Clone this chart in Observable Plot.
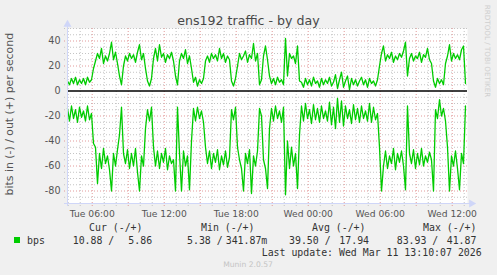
<!DOCTYPE html>
<html><head><meta charset="utf-8">
<script src="https://cdn.jsdelivr.net/npm/d3@7"></script>
<script src="https://cdn.jsdelivr.net/npm/@observablehq/plot@0.6"></script>
<style>
html,body{margin:0;padding:0;background:#f0f0f0;}
#wrap{position:relative;width:497px;height:275px;overflow:hidden;background:#f0f0f0;}
#wrap svg{position:absolute;left:0;top:0;}
</style></head><body><div id="wrap"></div>
<script>
const title = "ens192 traffic - by day";
const yLabel = "bits in (-) / out (+) per second";
const watermark = "RRDTOOL / TOBI OETIKER";
const startHour = 3.94;        // hours since Tue 00:00 at the left edge
const stepHours = 1 / 6;       // one reading every 10 minutes
const spanHours = 400 * 300 / 3600;

const outValues = [
  8,5,10,6,11,5,9,6,10,5,11,7,9,
  18,24,
  30,26,34,22,28,24,30,39,25,31,22,12,
  5,20,
  28,24,30,26,29,23,31,37,25,30,
  18,8,4,10,
  26,34,24,37,27,30,23,29,26,31,24,
  12,5,24,
  30,26,33,22,28,
  18,
  7,11,4,9,6,10,
  24,
  28,23,30,26,29,24,34,26,30,23,28,25,
  8,4,10,
  20,
  30,25,28,32,23,29,26,38,24,30,
  5,9,
  28,36,25,
  12,
  6,10,5,11,7,9,5,
  42,
  12,30,26,28,22,36,8,
  7,3,10,5,9,4,11,6,8,3,10,5,9,6,11,4,7,13,2,9,15,3,8,12,1,10,5,9,4,8,11,5,9,3,10,6,8,4,9,
  20,30,
  36,24,29,26,31,23,28,25,30,27,32,
  39,12,26,
  30,24,28,26,31,23,29,27,34,25,22,
  8,3,10,6,9,5,
  22,
  28,37,24,30,26,29,25,33,36,
  6
];
const inValues = [
  -14,-24,-12,-22,-15,-25,-13,-21,-16,-24,-12,-23,-18,
  -42,
  -45,-74,-50,-62,-46,-58,-52,-63,-80,-50,-60,-47,-35,
  -13,-50,
  -58,-47,-62,-50,-60,-46,-65,-80,-52,-60,
  -30,-15,-24,-13,
  -45,
  -60,-48,-62,-50,-57,-46,-63,-52,-58,-55,
  -80,-13,-50,-80,
  -48,-60,-52,
  -79,-40,
  -14,-24,-13,-22,-16,-25,
  -45,
  -58,-48,-62,-50,-57,-47,-63,-52,-59,-48,-61,-53,
  -15,-23,-13,
  -45,
  -55,-62,-80,-50,-58,-47,-82,-52,-60,-48,
  -14,-20,
  -55,-62,-78,
  -30,
  -14,-24,-12,-22,-16,-25,-13,
  -83,
  -40,-62,-45,-60,-50,-78,-35,
  -12,-24,-10,-22,-15,-26,-11,-23,-14,-25,-12,-22,-16,-24,-9,-27,-13,-30,-6,-25,-8,-28,-12,-22,-15,-26,-11,-23,-14,-25,-12,-22,-16,-24,-10,-25,-13,-23,-18,
  -45,-80,
  -60,-48,-62,-52,-58,-46,-63,-50,-57,-48,-60,
  -79,-12,-50,
  -58,-47,-62,-50,-59,-46,-60,-52,-57,-49,-55,
  -80,
  -15,-22,-7,-20,-14,-24,
  -45,
  -80,-52,-60,-48,-62,-79,-50,-58,
  -12
];

const xTickHours = [6, 12, 18, 24, 30, 36];
const xTickLabels = ["Tue 06:00", "Tue 12:00", "Tue 18:00", "Wed 00:00", "Wed 06:00", "Wed 12:00"];
const yTicks = [-80, -60, -40, -20, 0, 20, 40];
const yDomain = [-90, 50];

const seriesName = "bps";
const legendHeaders = ["Cur (-/+)", "Min (-/+)", "Avg (-/+)", "Max (-/+)"];
const legendIn = ["10.88 /", "5.38 /", "39.50 /", "83.93 /"];
const legendOut = ["5.86", "341.87m", "17.94", "41.87"];
const lastUpdate = "Last update: Wed Mar 11 13:10:07 2026";
const version = "Munin 2.0.57";

const lineColor = "#00cc00";
const axisColor = "#cfd6f8";

const data = outValues.map((v, i) => ({h: startHour + i * stepHours, out: v, inn: inValues[i]}));
const x0 = startHour, x1 = startHour + spanHours;

const majorX = d3.range(Math.ceil(x0 / 3) * 3, x1, 3);
const minorX = d3.range(Math.ceil(x0), x1, 1).filter(h => h % 3 !== 0);
const majorY = d3.range(yDomain[0], yDomain[1] + 1, 5).filter(v => v % 20 === 0 && v !== 0);
const minorY = d3.range(yDomain[0], yDomain[1] + 1, 5).filter(v => v % 20 !== 0 && v > yDomain[0]);

const chart = Plot.plot({
  width: 497, height: 275,
  marginLeft: 67, marginRight: 30, marginTop: 28, marginBottom: 72,
  style: {background: "transparent", color: "#555", fontFamily: "DejaVu Sans", fontSize: "9.2px"},
  x: {domain: [x0, x1], axis: null},
  y: {domain: yDomain, axis: null},
  marks: [
    Plot.frame({fill: "white", stroke: null}),
    Plot.ruleX(minorX, {stroke: "#c4c4c4", strokeDasharray: "1,2", insetBottom: -3}),
    Plot.ruleY(minorY, {stroke: "#c4c4c4", strokeDasharray: "1,2", insetLeft: -3}),
    Plot.ruleX(majorX, {stroke: "#e29a9a", strokeDasharray: "1,2", insetBottom: -3}),
    Plot.ruleY(majorY, {stroke: "#e29a9a", strokeDasharray: "1,2", insetLeft: -3}),
    Plot.lineY(data, {x: "h", y: "out", stroke: lineColor, strokeWidth: 1.3}),
    Plot.lineY(data, {x: "h", y: "inn", stroke: lineColor, strokeWidth: 1.3}),
    Plot.ruleY([0], {stroke: "black", strokeWidth: 1.6}),
    Plot.ruleX([x0], {stroke: axisColor, insetTop: -4, insetBottom: -3}),
    Plot.ruleY([yDomain[0]], {stroke: axisColor, insetLeft: -3, insetRight: -3}),
    Plot.dot([{h: x0, v: yDomain[1]}], {x: "h", y: "v", symbol: "triangle", r: 3, fill: axisColor, stroke: null, dy: -4}),
    Plot.dot([{h: x1, v: yDomain[0]}], {x: "h", y: "v", symbol: "triangle", r: 3, fill: axisColor, stroke: null, dx: 4, rotate: 90}),
    Plot.axisX({ticks: xTickHours, tickFormat: d => xTickLabels[xTickHours.indexOf(d)], tickSize: 0, tickPadding: 7, fontSize: 9.2, label: null}),
    Plot.axisY({ticks: yTicks, tickFormat: d => String(d), tickSize: 0, tickPadding: 7, fontSize: 9.6, label: null})
  ]
});
document.getElementById("wrap").appendChild(chart);

const svg = d3.select(chart);
const g = svg.append("g").attr("text-anchor", "start");
g.append("text").attr("x", 248.5).attr("y", 24.5).attr("text-anchor", "middle")
  .attr("font-family", "DejaVu Sans").attr("font-size", 12.6).attr("fill", "#484848").text(title);
g.append("text").attr("transform", "translate(13,114.2) rotate(-90)").attr("text-anchor", "middle")
  .attr("font-family", "DejaVu Sans").attr("font-size", 10.9).attr("fill", "#555").text(yLabel);
g.append("text").attr("transform", "translate(484.5,51) rotate(90)").attr("text-anchor", "middle")
  .attr("font-family", "DejaVu Sans").attr("font-size", 7.2).attr("fill", "#cfcfcf").text(watermark);

const mono = (x, y, s, fill = "#333", size = 9.9) => g.append("text").attr("x", x).attr("y", y)
  .attr("text-anchor", "start")
  .attr("font-family", "DejaVu Sans Mono").attr("font-size", size).attr("fill", fill)
  .style("white-space", "pre").text(s);
const headerX = [89, 201, 312, 423];
const inX = [72.7, 187, 289, 396.7];
const outX = [128.3, 225.7, 339.3, 446.7];
legendHeaders.forEach((s, i) => mono(headerX[i], 231, s));
g.append("rect").attr("x", 14).attr("y", 237).attr("width", 6).attr("height", 6).attr("fill", lineColor);
mono(27, 243.5, seriesName);
legendIn.forEach((s, i) => mono(inX[i], 243.5, s));
legendOut.forEach((s, i) => mono(outX[i], 243.5, s));
mono(261.7, 255.5, lastUpdate);
g.append("text").attr("x", 248).attr("y", 267).attr("text-anchor", "middle")
  .attr("font-family", "DejaVu Sans").attr("font-size", 7.6).attr("fill", "#c4c4c4").text(version);
</script></body></html>
